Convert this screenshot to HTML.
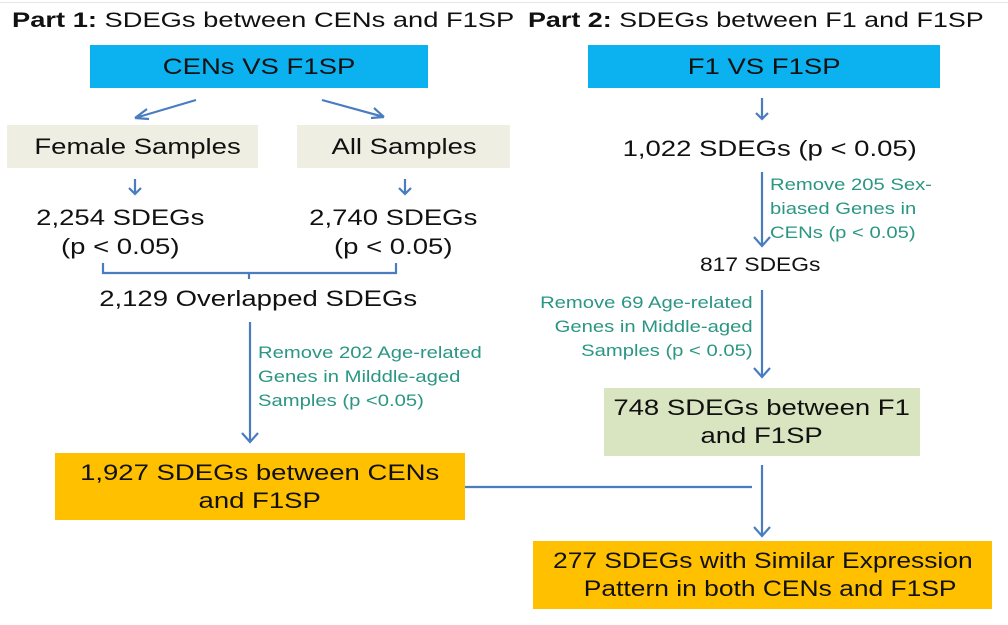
<!DOCTYPE html>
<html><head><meta charset="utf-8"><style>
body{margin:0;width:1008px;height:625px;background:#fff;position:relative;overflow:hidden;font-family:"Liberation Sans",Arial,sans-serif;color:#111}
.a{position:absolute;white-space:nowrap}
.box{position:absolute;display:flex;align-items:center;justify-content:center;text-align:center;font-size:22px;line-height:28px}
.t{position:absolute;white-space:nowrap;font-size:22px;text-align:center}
.g{position:absolute;white-space:nowrap;font-size:17px;line-height:24px;color:#2a9683}
.s{display:inline-block;transform:scaleX(1.25);transform-origin:center}
.sl{display:inline-block;transform:scaleX(1.19);transform-origin:left}
.sr{display:inline-block;transform:scaleX(1.19);transform-origin:right}
svg{position:absolute;left:0;top:0}
</style></head><body>
<div class="a" style="left:12px;top:9px;font-size:21px;transform:scaleX(1.3);transform-origin:left"><b>Part 1:</b> SDEGs between CENs and F1SP</div>
<div class="a" style="left:528px;top:9px;font-size:21px;transform:scaleX(1.28);transform-origin:left"><b>Part 2:</b> SDEGs between F1 and F1SP</div>
<div style="position:absolute;left:0;top:2px;width:1008px;height:1px;background:#e6e6e6"></div>

<div class="box" style="left:90px;top:45px;width:338px;height:43px;background:#0cb1ef"><span class="s">CENs VS F1SP</span></div>
<div class="box" style="left:588px;top:45px;width:352px;height:43px;background:#0cb1ef"><span class="s">F1 VS F1SP</span></div>
<div class="box" style="left:7px;top:125px;width:251px;height:43px;background:#eeeee2"><span class="s" style="margin-left:10px">Female Samples</span></div>
<div class="box" style="left:297px;top:125px;width:213px;height:43px;background:#eeeee2"><span class="s" style="margin-left:2px">All Samples</span></div>

<div class="t" style="left:20px;top:203px;width:200px;line-height:29px"><span class="s">2,254 SDEGs<br>(p &lt; 0.05)</span></div>
<div class="t" style="left:293px;top:203px;width:200px;line-height:29px"><span class="s">2,740 SDEGs<br>(p &lt; 0.05)</span></div>
<div class="t" style="left:78px;top:286px;width:360px"><span class="s">2,129 Overlapped SDEGs</span></div>
<div class="g" style="left:258px;top:341px"><span class="sl">Remove 202 Age-related<br>Genes in Milddle-aged<br>Samples (p &lt;0.05)</span></div>
<div class="box" style="left:55px;top:453px;width:410px;height:67px;background:#ffc000"><span class="s">1,927 SDEGs between CENs<br>and F1SP</span></div>

<div class="t" style="left:620px;top:136px;width:300px"><span class="s">1,022 SDEGs (p &lt; 0.05)</span></div>
<div class="g" style="left:770px;top:173px"><span class="sl">Remove 205 Sex-<br>biased Genes in<br>CENs (p &lt; 0.05)</span></div>
<div class="a" style="left:700px;top:255px;font-size:19px;transform:scaleX(1.2);transform-origin:left">817 SDEGs</div>
<div class="g" style="left:480px;top:291px;width:273px;text-align:right"><span class="sr">Remove 69 Age-related<br>Genes in Middle-aged<br>Samples (p &lt; 0.05)</span></div>
<div class="box" style="left:604px;top:388px;width:316px;height:68px;background:#d9e4c0"><span class="s">748 SDEGs between F1<br>and F1SP</span></div>
<div class="box" style="left:533px;top:541px;width:459px;height:68px;background:#ffc000"><span class="s" style="transform:scaleX(1.2)">277 SDEGs with Similar Expression<br>&nbsp;&nbsp;Pattern in both CENs and F1SP</span></div>

<svg width="1008" height="625" fill="none" stroke="#4a7cc0" stroke-width="2.2">
<path d="M196 100 L135 118 M135 118 l12 -9 M135 118 l14 1" />
<path d="M322 100 L384 117 M384 117 l-13 1 M384 117 l-10 -9" />
<path d="M135 179 V194 M129 188 l6 6 l6 -6" />
<path d="M405 179 V194 M399 188 l6 6 l6 -6" />
<path d="M103 263 V273 H396 V263 M249 273 V279" />
<path d="M250 322 V442 M242 433 l8 9 l8 -9" />
<path d="M465 487 H752" />
<path d="M762 465 V536 M754 527 l8 9 l8 -9" />
<path d="M762 98 V119 M756 113 l6 6 l6 -6" />
<path d="M762 172 V246 M754 237 l8 9 l8 -9" />
<path d="M762 290 V377 M754 368 l8 9 l8 -9" />
</svg>
</body></html>
